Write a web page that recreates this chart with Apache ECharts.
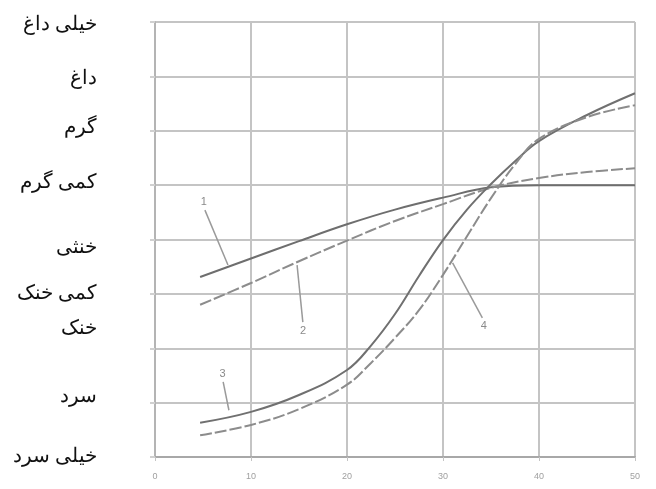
<!DOCTYPE html>
<html>
<head>
    <meta charset="UTF-8">
    <title>Chart</title>
    <script type="text/javascript" src="https://cdn.jsdelivr.net/npm/echarts@6/dist/echarts.min.js"></script>
    <style>
        html, body { margin: 0; padding: 0; background: #fff; }
        #main { width: 656px; height: 489px; }
    </style>
</head>
<body>
<div id="main"></div>
<script type="text/javascript">
    // data
    var xTicks = [0, 10, 20, 30, 40, 50];
    var yLabels = ['خیلی سرد', 'سرد', 'خنک', 'کمی خنک', 'خنثی', 'کمی گرم', 'گرم', 'داغ', 'خیلی داغ'];
    var yLabelVals = [0, 1.1, 2.35, 3, 3.85, 5.05, 6.05, 6.95, 7.95];

    var xA = [4.7, 10, 15, 20, 25, 30, 35, 40, 45, 50];
    var curve1 = [3.31, 3.65, 3.97, 4.28, 4.55, 4.77, 4.96, 5.0, 5.0, 5.0];
    var curve2 = [2.80, 3.20, 3.60, 3.98, 4.34, 4.65, 4.95, 5.13, 5.24, 5.31];

    var xB = [4.7, 10, 15, 20, 22.5, 25, 27.5, 30, 32.5, 35, 37.5, 40, 45, 50];
    var curve3 = [0.63, 0.83, 1.14, 1.60, 2.05, 2.63, 3.33, 3.99, 4.55, 5.02, 5.44, 5.81, 6.29, 6.69];
    var curve4 = [0.40, 0.59, 0.88, 1.33, 1.73, 2.19, 2.70, 3.35, 4.06, 4.76, 5.38, 5.85, 6.25, 6.47];

    function pairs(xs, ys) {
        var out = [];
        for (var i = 0; i < xs.length; i++) {
            out.push([xs[i], ys[i]]);
        }
        return out;
    }

    // small numbered leader lines
    function leader(text, from, to) {
        return {
            silent: true,
            symbol: ['none', 'none'],
            animation: false,
            lineStyle: { color: '#9a9a9a', width: 1.5, type: 'solid' },
            label: { show: true, position: 'start', formatter: text, color: '#8a8a8a', fontSize: 11, distance: 3 },
            data: [[{ coord: from }, { coord: to }]]
        };
    }

    function curve(name, xs, ys, color, dash, ml) {
        return {
            name: name,
            type: 'line',
            data: pairs(xs, ys),
            smooth: 0.4,
            showSymbol: false,
            lineStyle: { color: color, width: 2, type: dash },
            markLine: ml
        };
    }

    var chart = echarts.init(document.getElementById('main'));
    var option = {
        animation: false,
        grid: { left: 155, right: 21, top: 22, bottom: 32 },
        xAxis: {
            type: 'value',
            min: 0, max: 50, interval: 10,
            axisLine: { show: true, lineStyle: { color: '#a8a8a8', width: 2 } },
            axisTick: { show: true, length: 4, lineStyle: { color: '#c4c4c4' } },
            axisLabel: { color: '#a0a0a0', fontSize: 9, margin: 15 },
            splitLine: { show: true, lineStyle: { color: '#c4c4c4', width: 2 } }
        },
        yAxis: {
            type: 'value',
            min: 0, max: 8, interval: 1,
            axisLine: { show: true, lineStyle: { color: '#b4b4b4', width: 2 } },
            axisTick: { show: true, length: 5, lineStyle: { color: '#d0d0d0', width: 2 } },
            axisLabel: {
                customValues: yLabelVals,
                formatter: function (v) {
                    for (var i = 0; i < yLabelVals.length; i++) {
                        if (Math.abs(yLabelVals[i] - v) < 0.001) return yLabels[i];
                    }
                    return '';
                },
                color: '#111',
                fontSize: 20,
                fontFamily: 'serif',
                margin: 58,
                align: 'right'
            },
            splitLine: { show: true, lineStyle: { color: '#c4c4c4', width: 2 } }
        },
        series: [
            curve('1', xA, curve1, '#6e6e6e', 'solid', leader('1', [5.2, 4.54], [7.6, 3.53])),
            curve('2', xA, curve2, '#8c8c8c', [12, 3], leader('2', [15.4, 2.48], [14.8, 3.53])),
            curve('3', xB, curve3, '#707070', 'solid', leader('3', [7.1, 1.38], [7.7, 0.86])),
            curve('4', xB, curve4, '#8c8c8c', [12, 3], leader('4', [34.1, 2.56], [31.0, 3.57]))
        ]
    };
    chart.setOption(option);
</script>
</body>
</html>
